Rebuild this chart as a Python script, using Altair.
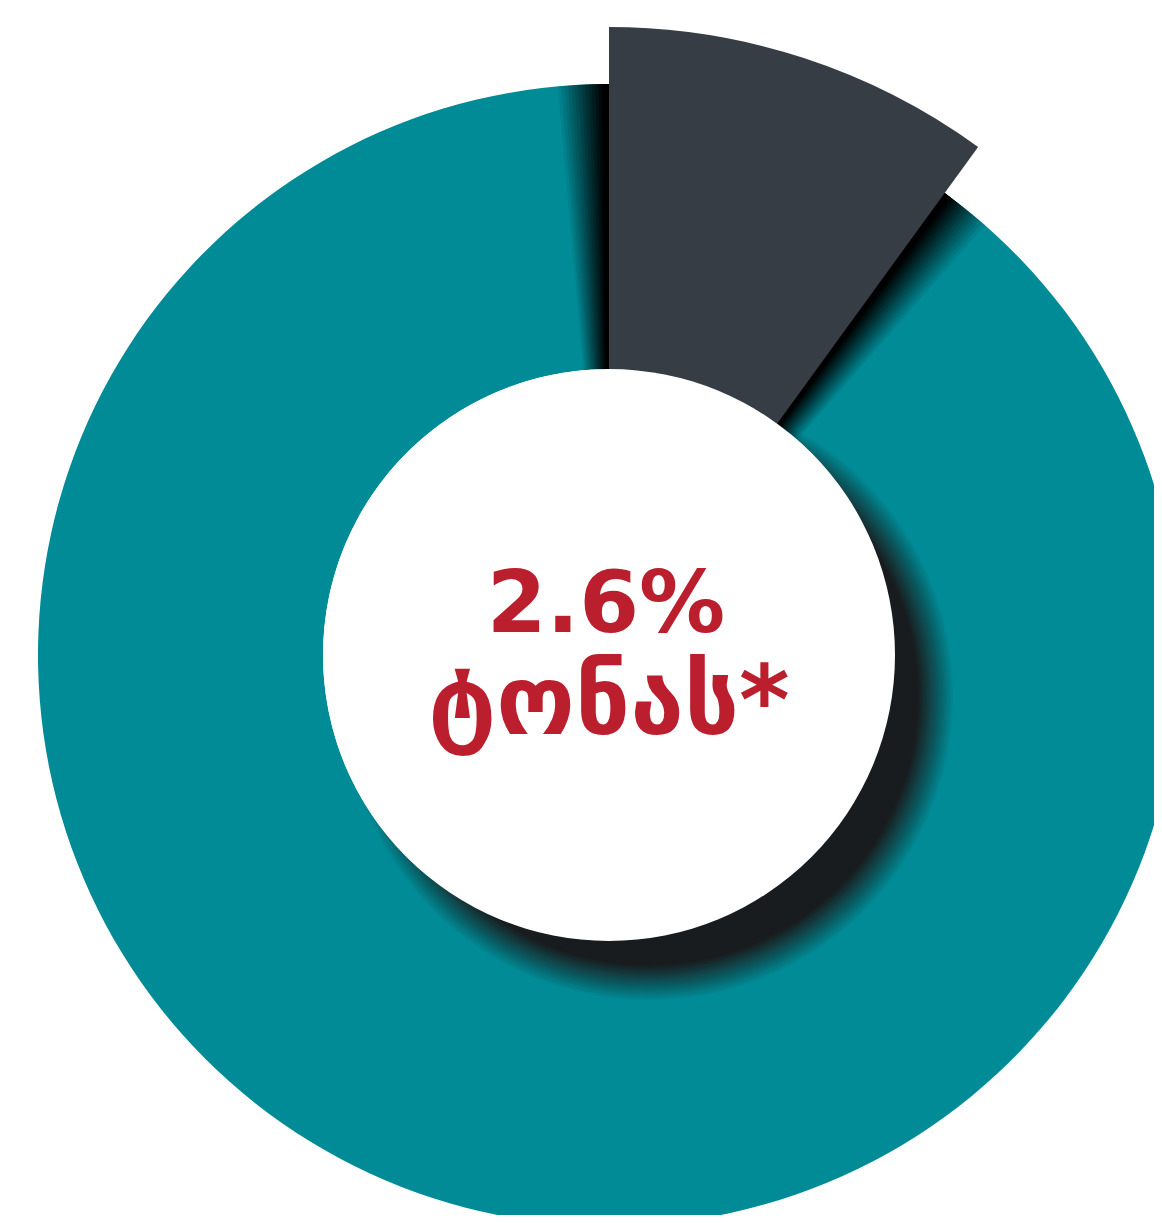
import math
import altair as alt
import pandas as pd

# ---- data ----
categories = ["highlighted", "rest"]
values = [10.0, 90.0]          # slice spans ~36 degrees of the ring
order = [0, 1]
center_labels = ["2.6%", "ტონას*"]

# ---- styling ----
TEAL = "#008b96"
SLICE = "#373d44"
RED = "#bb1f2e"
SHADOW = "#1c2023"
CX, CY = 601, 647
R_OUT, R_IN, R_SLICE = 571, 286, 628
W, H = 1146, 1207

total = sum(values)
df = pd.DataFrame({"category": categories, "value": values, "order": order})
one = pd.DataFrame({"k": [0]})
txt = pd.DataFrame({"label": center_labels, "line": [0, 1]})

base = alt.Chart(df).transform_stack(
    stack="value", groupby=[], as_=["t0", "t1"], sort=[alt.SortField("order")]
)
theta = alt.Theta("t0:Q", scale=alt.Scale(domain=[0, total], range=[0, 2 * math.pi]))
theta2 = alt.Theta2("t1:Q")
pos = dict(x=alt.value(CX), y=alt.value(CY))


def ramp_alphas(n):
    # opacities so that stacked layers give a linear fade
    A = [1 - j / n for j in range(n)] + [0.0]
    A[0] = 0.999
    out = []
    for j in range(n):
        if j == n - 1:
            out.append(A[j])
        else:
            out.append(1 - (1 - A[j]) / (1 - A[j + 1]))
    return out


layers = []
# teal ring
layers.append(
    base.mark_arc(radius=R_OUT, radius2=R_IN, color=TEAL).encode(
        theta=theta, theta2=theta2, **pos
    )
)

# shadow of the white centre disc (offset lower-right, blurred)
n_c = 18
alph_c = ramp_alphas(n_c)
for j in range(n_c):
    r = R_IN - 16 + 2 * j
    layers.append(
        alt.Chart(one)
        .mark_arc(theta=0, theta2=2 * math.pi, radius=r, color=SHADOW, opacity=alph_c[j])
        .encode(x=alt.value(CX + 40), y=alt.value(CY + 41))
    )

# shadow around the exploded slice
n_s = 14
alph_s = ramp_alphas(n_s)
alph_s = [alph_s[0]] + alph_s
for j, a in enumerate(alph_s):
    d = 0.006 * (j + 1)
    layers.append(
        base.transform_filter(alt.datum.order == 0)
        .mark_arc(radius=R_OUT, radius2=R_IN - 20, color="#000000", opacity=min(a, 1.0),
                  thetaOffset=-d, theta2Offset=d)
        .encode(theta=theta, theta2=theta2, **pos)
    )

# the slice itself
layers.append(
    base.transform_filter(alt.datum.order == 0)
    .mark_arc(radius=R_SLICE, radius2=0, color=SLICE)
    .encode(theta=theta, theta2=theta2, **pos)
)

# white centre
layers.append(
    alt.Chart(one)
    .mark_arc(theta=0, theta2=2 * math.pi, radius=R_IN, color="#ffffff")
    .encode(**pos)
)

# centre texts
layers.append(
    alt.Chart(txt).transform_filter(alt.datum.line == 0)
    .mark_text(font="DejaVu Sans", fontWeight="bold", fontSize=86, color=RED,
               align="center", baseline="alphabetic")
    .encode(text="label:N", x=alt.value(598), y=alt.value(624))
)
layers.append(
    alt.Chart(txt).transform_filter(alt.datum.line == 1)
    .mark_text(font="DejaVu Sans", fontWeight="bold", fontSize=97, color=RED,
               align="center", baseline="alphabetic")
    .encode(text="label:N", x=alt.value(601), y=alt.value(726))
)

chart = (
    alt.layer(*layers)
    .properties(width=W, height=H, autosize=alt.AutoSizeParams(type="none"), padding=0)
    .configure_view(stroke=None)
)

chart.save("out.html", embed_options={"renderer": "svg", "actions": False})
